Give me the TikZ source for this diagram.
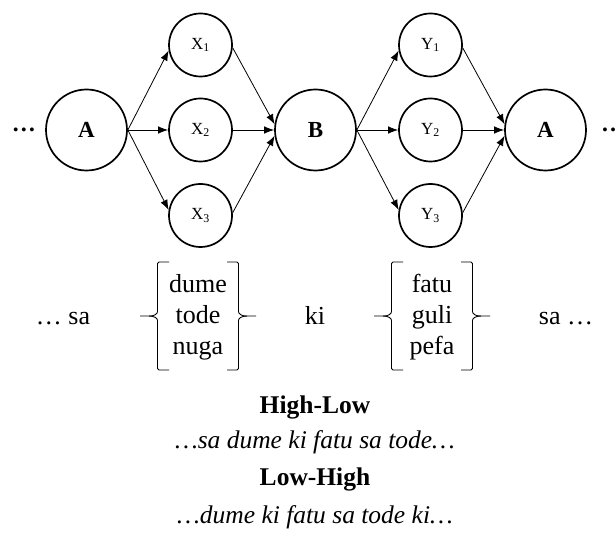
\documentclass[tikz,border=0pt]{standalone}
\usepackage{fontspec}
\setmainfont{Liberation Serif}
\usetikzlibrary{arrows.meta}
\begin{document}
\begin{tikzpicture}[x=1pt,y=-1pt,
  big/.style={circle,draw,line width=1.7pt,minimum size=81pt,inner sep=0pt,font=\fontsize{23}{23}\selectfont\bfseries},
  small/.style={circle,draw,line width=1.7pt,minimum size=63pt,inner sep=0pt,font=\fontsize{17}{17}\selectfont},
  arr/.style={-{Latex[length=10pt,width=7.5pt]},line width=0.8pt},
  mid/.style={anchor=base,inner sep=0pt,font=\fontsize{26}{26}\selectfont},
  head/.style={anchor=base,inner sep=0pt,font=\fontsize{25.5}{25.5}\selectfont\bfseries},
  ex/.style={anchor=base,inner sep=0pt,font=\fontsize{25.5}{25.5}\selectfont\itshape},
  dotsnode/.style={anchor=base,inner sep=0pt,font=\fontsize{24}{24}\selectfont\bfseries},
  brk/.style={line width=0.9pt,rounded corners=1.5pt},
  bgroup/.pic={
    \draw[brk] (-29,-54) -- (-40.5,-54) -- (-40.5,-6) .. controls (-40.5,-2) and (-44,0) .. (-49,0) -- (-58,0);
    \draw[brk] (-49,0) .. controls (-44,0) and (-40.5,2) .. (-40.5,6) -- (-40.5,54) -- (-29,54);
    \draw[brk] (29,-54) -- (40.5,-54) -- (40.5,-6) .. controls (40.5,-2) and (44,0) .. (49,0) -- (58,0);
    \draw[brk] (49,0) .. controls (44,0) and (40.5,2) .. (40.5,6) -- (40.5,54) -- (29,54);
  }
]
\useasboundingbox (0,0) rectangle (616,537);
% top row
\node[dotsnode] (dl) at (24,132) {…};
\node[big] (A1) at (86.5,130) {A};
\node[small] (X1) at (200.5,45) {X\textsubscript{1}};
\node[small] (X2) at (200.5,130) {X\textsubscript{2}};
\node[small] (X3) at (200.5,215.5) {X\textsubscript{3}};
\node[big] (B) at (315.5,130) {B};
\node[small] (Y1) at (430.5,45) {Y\textsubscript{1}};
\node[small] (Y2) at (430.5,130) {Y\textsubscript{2}};
\node[small] (Y3) at (430.5,215.5) {Y\textsubscript{3}};
\node[big] (A2) at (545.5,130) {A};
\node[dotsnode] (dr) at (613,132) {…};
\draw[arr] (A1.east) -- (X1.190);
\draw[arr] (A1.east) -- (X2.west);
\draw[arr] (A1.east) -- (X3.170);
\draw[arr] (X1.355) -- (B.172);
\draw[arr] (X2.east) -- (B.west);
\draw[arr] (X3.5) -- (B.188);
\draw[arr] (B.east) -- (Y1.190);
\draw[arr] (B.east) -- (Y2.west);
\draw[arr] (B.east) -- (Y3.170);
\draw[arr] (Y1.355) -- (A2.172);
\draw[arr] (Y2.east) -- (A2.west);
\draw[arr] (Y3.5) -- (A2.188);
% middle row
\node[mid] (sa1) at (63,325) {… sa};
\pic at (198,316) {bgroup};
\node[mid] (w1) at (198,293) {dume};
\node[mid] (w2) at (198,324) {tode};
\node[mid] (w3) at (198,355) {nuga};
\node[mid] (ki) at (315,325) {ki};
\pic at (432,316) {bgroup};
\node[mid] (w4) at (432,293) {fatu};
\node[mid] (w5) at (432,324) {guli};
\node[mid] (w6) at (432,355) {pefa};
\node[mid] (sa2) at (566,325) {sa …};
% bottom
\node[head] (h1) at (315,413) {High-Low};
\node[ex] (e1) at (315,448) {…sa dume ki fatu sa tode…};
\node[head] (h2) at (315,485) {Low-High};
\node[ex] (e2) at (315,523) {…dume ki fatu sa tode ki…};
\end{tikzpicture}
\end{document}
